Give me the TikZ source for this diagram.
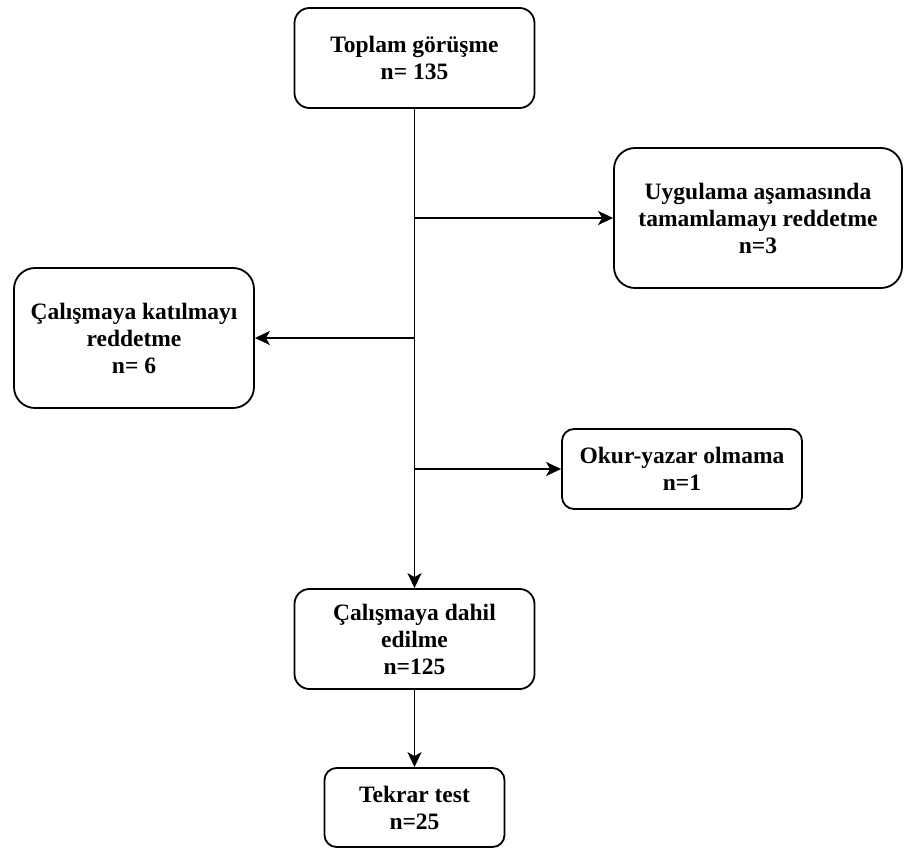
\documentclass[tikz,border=0pt]{standalone}
\usepackage{fontspec}
\setmainfont{Liberation Serif}
\usetikzlibrary{arrows.meta}
\tikzset{
  box/.style={draw=black, line width=1.8pt, fill=white, align=center, inner sep=0pt,
    font=\bfseries\fontsize{23.5}{27}\selectfont},
  conn/.style={line width=1.8pt, -{Stealth[length=15pt,width=14pt,inset=4pt]}}
}
\begin{document}
\begin{tikzpicture}[x=1pt,y=-1pt]
\useasboundingbox (0,0) rectangle (904,848);
\node[box, minimum width=240pt, minimum height=100pt, rounded corners=15pt] (b1) at (414.5,58) {Toplam görüşme\\n= 135};
\node[box, minimum width=288pt, minimum height=140pt, rounded corners=21pt] (b2) at (758,218) {Uygulama aşamasında\\tamamlamayı reddetme\\n=3};
\node[box, minimum width=240pt, minimum height=140pt, rounded corners=21pt] (b3) at (134,338) {Çalışmaya katılmayı\\reddetme\\n= 6};
\node[box, minimum width=240pt, minimum height=80pt, rounded corners=12pt] (b4) at (682,469) {Okur-yazar olmama\\n=1};
\node[box, minimum width=240pt, minimum height=100pt, rounded corners=15pt] (b5) at (414.5,639) {Çalışmaya dahil\\edilme\\n=125};
\node[box, minimum width=180pt, minimum height=79pt, rounded corners=12pt] (b6) at (414.5,807.5) {Tekrar test\\n=25};
\coordinate (j1) at (414.5,218);
\coordinate (j2) at (414.5,338);
\coordinate (j3) at (414.5,469);
\draw[conn] (b1.south) -- (b5.north);
\draw[conn] (j1) -- (b2.west);
\draw[conn] (j2) -- (b3.east);
\draw[conn] (j3) -- (b4.west);
\draw[conn] (b5.south) -- (b6.north);
\end{tikzpicture}
\end{document}
